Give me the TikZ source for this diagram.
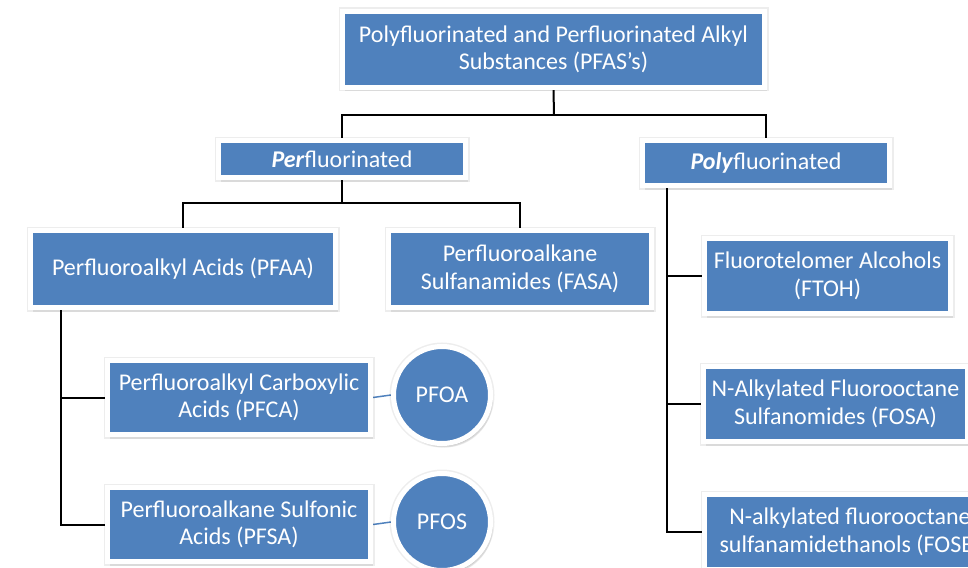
\documentclass[tikz,border=0pt]{standalone}
\usepackage{fontspec}
\setmainfont{Carlito}
\usetikzlibrary{shadows,backgrounds,calc}
\definecolor{boxblue}{HTML}{4F81BD}
\begin{document}
\begin{tikzpicture}[x=1pt,y=-1pt,
  softshadow/.style={
    drop shadow={shadow xshift=0.5pt, shadow yshift=-1pt, opacity=0.12, fill=black},
    drop shadow={shadow xshift=1.5pt, shadow yshift=-2.5pt, opacity=0.12, fill=black},
    drop shadow={shadow xshift=2.5pt, shadow yshift=-4pt, opacity=0.08, fill=black},
    preaction={draw=black, draw opacity=0.07, line width=8pt}},
  box/.style={rectangle, fill=boxblue, draw=white, line width=5pt, text=white,
    align=center, inner sep=0pt, font=\fontsize{24}{27.5}\selectfont, softshadow},
  disc/.style={circle, fill=boxblue, draw=white, line width=5pt, text=white,
    inner sep=0pt, minimum size=97pt, font=\fontsize{24}{27.5}\selectfont, softshadow},
  conn/.style={draw=black, line width=2pt},
  thin/.style={draw=boxblue, line width=1.5pt}]
\useasboundingbox (0,0) rectangle (968,567);
\begin{scope}
\clip (0,0) rectangle (968,567);
\node[box, minimum width=422pt, minimum height=76pt] (T) at (553.5,49.5)
  {Polyfluorinated and Perfluorinated Alkyl\\Substances (PFAS’s)};
\node[box, minimum width=247pt, minimum height=37pt] (Per) at (342,159)
  {\textbf{\textit{Per}}fluorinated};
\node[box, minimum width=247pt, minimum height=45pt] (Poly) at (766,163)
  {\textbf{\textit{Poly}}fluorinated};
\node[box, minimum width=305pt, minimum height=77pt] (PFAA) at (183,269)
  {Perfluoroalkyl Acids (PFAA)};
\node[box, minimum width=263pt, minimum height=77pt] (FASA) at (520,269)
  {Perfluoroalkane\\Sulfanamides (FASA)};
\node[box, minimum width=263pt, minimum height=74pt] (PFCA) at (239,397.5)
  {Perfluoroalkyl Carboxylic\\Acids (PFCA)};
\node[box, minimum width=263pt, minimum height=74pt] (PFSA) at (239,524.5)
  {Perfluoroalkane Sulfonic\\Acids (PFSA)};
\node[disc] (PFOA) at (442,395) {PFOA};
\node[disc] (PFOS) at (442,522) {PFOS};
\node[box, minimum width=246pt, minimum height=75pt] (FTOH) at (827.5,276)
  {Fluorotelomer Alcohols\\(FTOH)};
\node[box, minimum width=264pt, minimum height=75pt] (FOSA) at (835.5,404)
  {N-Alkylated Fluorooctane\\Sulfanomides (FOSA)};
\node[box, minimum width=291pt, minimum height=75pt] (FOSE) at (850,532)
  {N-alkylated fluorooctane\\sulfanamidethanols (FOSE)};
\coordinate (j1) at (554,115);
\coordinate (j2) at (342,203);
\coordinate (pa) at (61,307);
\coordinate (pb) at (667,185);
\begin{pgfonlayer}{background}
  \draw[conn] (T.south) -- (j1);
  \draw[conn] (Per.north) |- (j1) -| (Poly.north);
  \draw[conn] (Per.south) -- (j2);
  \draw[conn] (PFAA.north) |- (j2) -| (FASA.north);
  \draw[conn] (pa) |- (PFSA.west);
  \draw[conn] (PFCA.west) -| (pa);
  \draw[conn] (pb) |- (FOSE.west);
  \draw[conn] (FTOH.west) -| (pb);
  \draw[conn] (FOSA.west) -| (pb);
  \draw[thin] (PFCA.east) -- (PFOA.west);
  \draw[thin] (PFSA.east) -- (PFOS.west);
\end{pgfonlayer}
\end{scope}
\end{tikzpicture}
\end{document}
